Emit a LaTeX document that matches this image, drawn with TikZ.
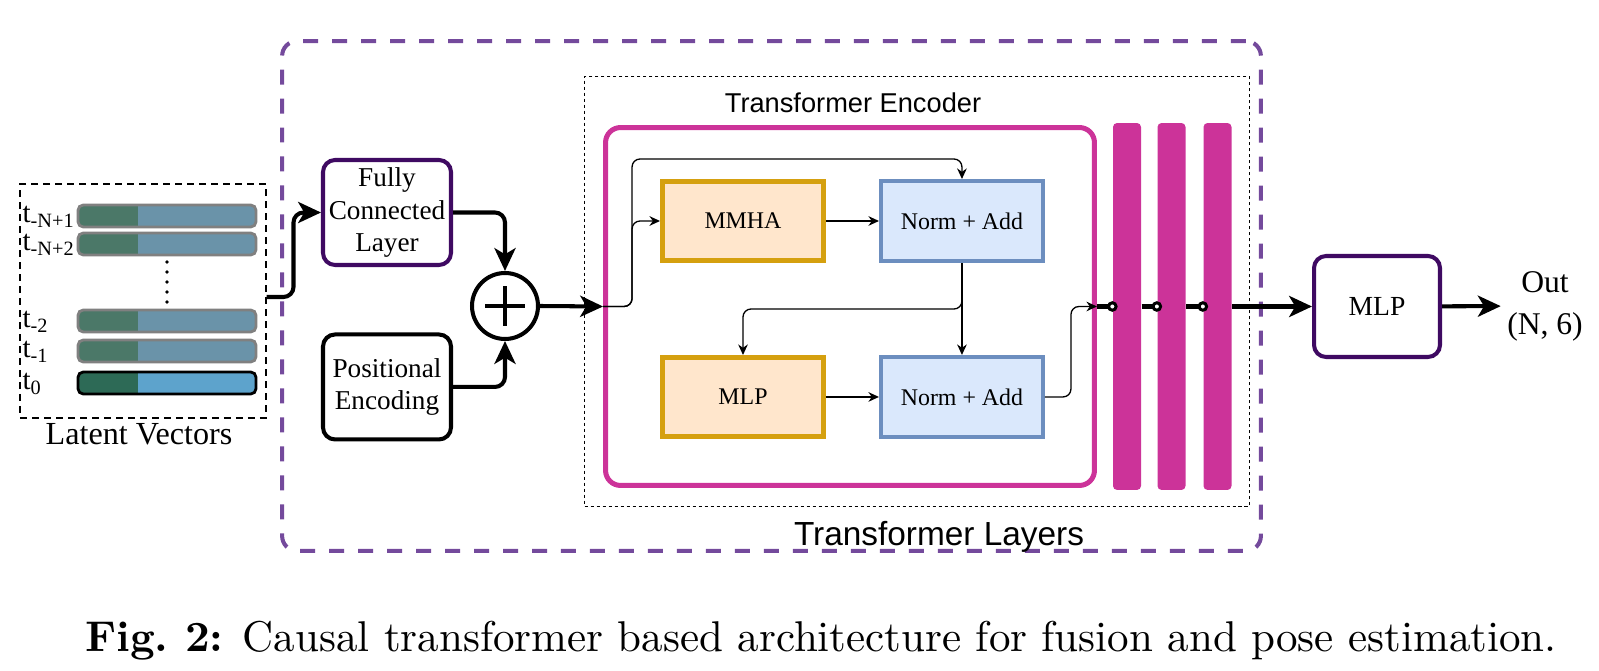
\documentclass[tikz,border=0pt]{standalone}
\usepackage{fontspec}
\newfontfamily\drawserif{Liberation Serif}
\newfontfamily\drawsans{Liberation Sans}
\usepackage{tikz}
\usetikzlibrary{positioning,arrows.meta}

\definecolor{outerpurple}{HTML}{744A9C}
\definecolor{darkpurple}{HTML}{3F0A62}
\definecolor{encpink}{HTML}{CC3399}
\definecolor{attnfill}{HTML}{FFE6CC}
\definecolor{attndraw}{HTML}{D5A00F}
\definecolor{normfill}{HTML}{DAE8FC}
\definecolor{normdraw}{HTML}{6C8EBF}
\definecolor{newgreen}{HTML}{2D6A56}
\definecolor{newblue}{HTML}{5DA3CC}
\definecolor{oldgreen}{HTML}{4B7868}
\definecolor{oldblue}{HTML}{6A93A9}

\begin{document}
\begin{tikzpicture}[x = 0.02cm, y = -0.02cm,
                    -{Stealth[length = 6pt, width = 5.5pt]},
                    line width = 0.75pt,
                    node distance = 3.52cm and 4.38cm, on grid,
                    block/.style  = {rectangle,
                                     rounded corners = 0.24cm,
                                     draw = black,
                                     line width = 2.3pt,
                                     align = center,
                                     inner sep = 0pt,
                                     font = \drawserif\fontsize{15.5}{18.5}\selectfont,
                                     minimum width = 2.56cm,
                                     minimum height = 2.1cm},
                    attn/.style   = {rectangle,
                                     fill = attnfill,
                                     draw = attndraw,
                                     line width = 2.85pt,
                                     font = \drawserif\fontsize{13.6}{16}\selectfont,
                                     minimum width = 3.22cm,
                                     minimum height = 1.58cm},
                    norm/.style   = {rectangle,
                                     fill = normfill,
                                     draw = normdraw,
                                     line width = 2.3pt,
                                     font = \drawserif\fontsize{13.6}{16}\selectfont,
                                     minimum width = 3.24cm,
                                     minimum height = 1.6cm},
                    layerbar/.style = {rectangle,
                                     fill = encpink,
                                     rounded corners = 0.08cm,
                                     inner sep = 0pt,
                                     minimum width = 0.56cm,
                                     minimum height = 7.34cm},
                    joint/.style  = {circle,
                                     draw,
                                     fill = white,
                                     line width = 1.7pt,
                                     inner sep = 0pt,
                                     minimum size = 0.15cm},
                    tlabel/.style = {inner sep = 0pt,
                                     font = \drawserif\fontsize{16.5}{19}\selectfont},
                    thickflow/.style = {line width = 2.3pt,
                                     -{Stealth[length = 13pt, width = 12pt, inset = 3.5pt]}},
                    thickline/.style = {line width = 2.3pt, -}]

\useasboundingbox (0,0) rectangle (1599,671);

% frames
\node[draw = outerpurple, line width = 2.3pt, rounded corners = 0.3cm,
      dash pattern = on 0.3cm off 0.28cm,
      minimum width = 19.58cm, minimum height = 10.2cm] (model) at (771.5,296) {};
\node[draw, line width = 0.5pt, dash pattern = on 0.07cm off 0.05cm,
      minimum width = 13.3cm, minimum height = 8.6cm] (layers) at (917,291.5) {};
\node[draw, line width = 0.6pt, dash pattern = on 0.14cm off 0.1cm,
      minimum width = 4.92cm, minimum height = 4.68cm] (latent) at (143,301) {};

% latent vectors
\foreach \name/\ypos/\sub/\gcol/\bcol/\dcol in
  {vecA/216/{-N+1}/oldgreen/oldblue/gray,
   vecB/244/{-N+2}/oldgreen/oldblue/gray,
   vecC/321/{-2}/oldgreen/oldblue/gray,
   vecD/351/{-1}/oldgreen/oldblue/gray,
   vecE/383/{0}/newgreen/newblue/black} {
  \begin{scope}[-]
    \clip[rounded corners = 3pt] (78,\ypos-11) rectangle (256,\ypos+11);
    \fill[\gcol] (78,\ypos-11) rectangle (138,\ypos+11);
    \fill[\bcol] (138,\ypos-11) rectangle (256,\ypos+11);
  \end{scope}
  \draw[-, \dcol, line width = 1.6pt, rounded corners = 3pt]
    (78,\ypos-11) rectangle (256,\ypos+11);
  \node[tlabel, anchor = base west] (lab\name) at (22,\ypos+7) {t\textsubscript{\sub}};
}
\foreach \d in {0,...,4}
  \fill (167,262+\d*10) circle (1.1pt);
\node[anchor = base, font = \drawserif\fontsize{18.3}{21}\selectfont] (latentlabel)
  at (139,445) {Latent Vectors};

% input side
\node[block, draw = darkpurple] (fc) at (387,212.5) {Fully\\Connected\\Layer};
\node[block] (posenc) [below = 3.49cm of fc] {Positional\\Encoding};
\node[circle, draw, line width = 2.3pt, minimum size = 1.32cm] (sum) at (505,306) {};
\draw[thickline] ([xshift = -0.4cm]sum.center) -- ([xshift = 0.4cm]sum.center);
\draw[thickline] ([yshift = -0.4cm]sum.center) -- ([yshift = 0.4cm]sum.center);

% encoder
\node[anchor = base, font = \drawsans\fontsize{15.5}{18}\selectfont] (enctitle)
  at (853,113) {Transformer Encoder};
\node[anchor = base, font = \drawsans\fontsize{19}{22}\selectfont] (layerstitle)
  at (939,546) {Transformer Layers};
\node[draw = encpink, line width = 2.85pt, rounded corners = 0.3cm,
      minimum width = 9.78cm, minimum height = 7.16cm] (enc) at (850,306.5) {};

\node[attn] (mmha) at (743,221) {MMHA};
\node[norm] (normA) [right = of mmha] {Norm + Add};
\node[attn] (ffn)   [below = of mmha] {MLP};
\node[norm] (normB) [below = of normA] {Norm + Add};

\foreach \i/\xpos in {1/1127, 2/1171.5, 3/1217.5}
  \node[layerbar] (bar\i) at (\xpos,306.5) {};

% output side
\node[block, draw = darkpurple, minimum width = 2.52cm, minimum height = 2.02cm,
      font = \drawserif\fontsize{15.7}{18}\selectfont] (head) at (1377,306.5) {MLP};
\node[align = center, font = \drawserif\fontsize{18}{23.8}\selectfont] (out)
  at (1545,306) {Out\\(N, 6)};

% connections
\draw[thickflow, rounded corners = 0.2cm] ([yshift = 0.08cm]latent.east) -- ++(27,0) |- (fc.west);
\draw[thickflow, rounded corners = 0.2cm] (fc.east) -| (sum.north);
\draw[thickflow, rounded corners = 0.2cm] (posenc.east) -| (sum.south);
\draw[thickflow] (sum.east) -- (enc.west);

\draw[rounded corners = 0.16cm] (enc.west) -- ++(29,0) |- (mmha.west);
\draw[rounded corners = 0.16cm] (enc.west) -- ++(29,0) -- ++(0,-147.5) -| (normA.north);
\draw (mmha) -- (normA);
\draw (normA) -- (normB);
\draw[rounded corners = 0.16cm] (normA.south) -- ++(0,46) -| (ffn.north);
\draw (ffn) -- (normB);
\draw[rounded corners = 0.16cm] (normB.east) -- ++(26,0) |- (enc.east);

\draw[thickline] (enc.east) -- (bar1.west);
\draw[thickline] (bar1.east) -- (bar2.west);
\draw[thickline] (bar2.east) -- (bar3.west);
\foreach \i in {1,2,3}
  \node[joint] (joint\i) at (bar\i.west) {};
\draw[thickflow] (bar3.east) -- (head.west);
\draw[thickflow] (head) -- (out);

% caption
\node[anchor = base, scale = 2.45] (caption) at (821,652)
  {\textbf{Fig.\ 2:} Causal transformer based architecture for fusion and pose estimation.};

\end{tikzpicture}
\end{document}
